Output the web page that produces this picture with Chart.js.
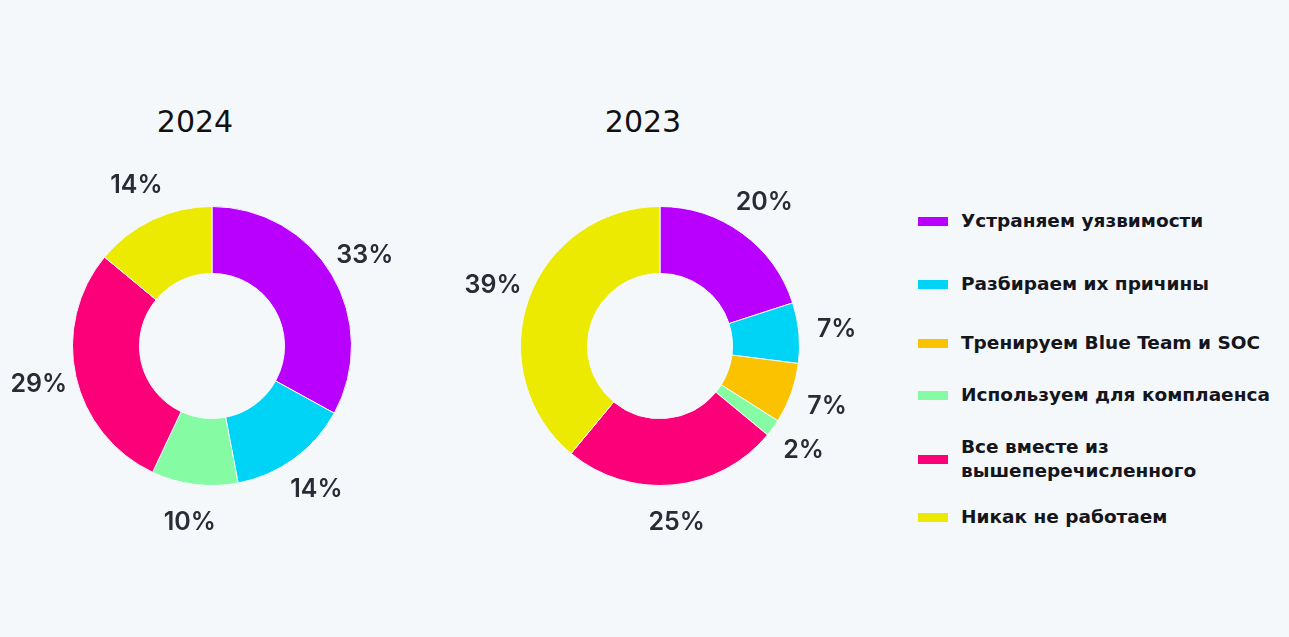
<!DOCTYPE html>
<html>
<head>
<meta charset="utf-8">
<script src="https://cdn.jsdelivr.net/npm/chart.js@4"></script>
<style>
  html, body { margin: 0; padding: 0; background: #f4f8fb; overflow: hidden; }
  body { width: 1289px; height: 637px; position: relative; font-family: "DejaVu Sans", sans-serif; }
  .wrap { position: absolute; top: 126px; width: 440px; height: 440px; }
  .title { position: absolute; top: 104px; width: 200px; text-align: center; font-size: 30px; color: #111; }
  #legend { position: absolute; left: 918px; top: 209px; margin: 0; padding: 0; list-style: none; }
  #legend li { display: flex; align-items: center; font-weight: bold; font-size: 18.5px; line-height: 24px; color: #15151c; }
  #legend li span.box { width: 30px; height: 9px; margin-right: 13px; flex: none; }
  #legend li:nth-child(2) { margin-top: 39px; }
  #legend li:nth-child(3) { margin-top: 35px; }
  #legend li:nth-child(4) { margin-top: 28px; }
  #legend li:nth-child(5) { margin-top: 28px; }
  #legend li:nth-child(6) { margin-top: 22px; }
</style>
</head>
<body>
<div class="title" style="left:95px">2024</div>
<div class="title" style="left:543px">2023</div>
<div class="wrap" style="left:-8px"><canvas id="c2024"></canvas></div>
<div class="wrap" style="left:440px"><canvas id="c2023"></canvas></div>
<ul id="legend"></ul>
<script>
const categories = [
  'Устраняем уязвимости',
  'Разбираем их причины',
  'Тренируем Blue Team и SOC',
  'Используем для комплаенса',
  'Все вместе из вышеперечисленного',
  'Никак не работаем'
];
const legendLines = [
  ['Устраняем уязвимости'],
  ['Разбираем их причины'],
  ['Тренируем Blue Team и SOC'],
  ['Используем для комплаенса'],
  ['Все вместе из', 'вышеперечисленного'],
  ['Никак не работаем']
];
const values2024 = [33, 14, 0, 10, 29, 14];
const values2023 = [20, 7, 7, 2, 25, 39];
const colors = ['#b900ff', '#00d4f6', '#fbc200', '#85fca3', '#fb0078', '#ebea00'];

// percent labels outside each slice
const pctLabels = {
  id: 'pctLabels',
  afterDatasetsDraw(chart) {
    const ctx = chart.ctx;
    const meta = chart.getDatasetMeta(0);
    const data = chart.data.datasets[0].data;
    ctx.save();
    ctx.font = '600 25px Inter';
    ctx.fillStyle = '#2b2b36';
    ctx.textAlign = 'center';
    ctx.textBaseline = 'middle';
    meta.data.forEach((arc, i) => {
      if (!data[i]) return;
      const p = arc.getProps(['x', 'y', 'startAngle', 'endAngle', 'outerRadius'], true);
      const a = (p.startAngle + p.endAngle) / 2;
      const r = p.outerRadius + 38;
      ctx.fillText(data[i] + '%', p.x + Math.cos(a) * r, p.y + Math.sin(a) * r);
    });
    ctx.restore();
  }
};

function makeChart(id, values) {
  return new Chart(document.getElementById(id), {
    type: 'doughnut',
    data: {
      labels: categories,
      datasets: [{
        data: values,
        backgroundColor: colors,
        borderColor: '#f4f8fb',
        borderWidth: 1
      }]
    },
    options: {
      responsive: false,
      animation: false,
      cutout: '52%',
      layout: { padding: 80 },
      plugins: {
        legend: { display: false },
        tooltip: { enabled: false }
      }
    },
    plugins: [pctLabels]
  });
}

document.querySelectorAll('canvas').forEach(c => { c.width = 440; c.height = 440; });
makeChart('c2024', values2024);
makeChart('c2023', values2023);

const legend = document.getElementById('legend');
categories.forEach((cat, i) => {
  const li = document.createElement('li');
  const box = document.createElement('span');
  box.className = 'box';
  box.style.background = colors[i];
  const txt = document.createElement('span');
  txt.innerHTML = legendLines[i].join('<br>');
  li.appendChild(box);
  li.appendChild(txt);
  legend.appendChild(li);
});
</script>
</body>
</html>
